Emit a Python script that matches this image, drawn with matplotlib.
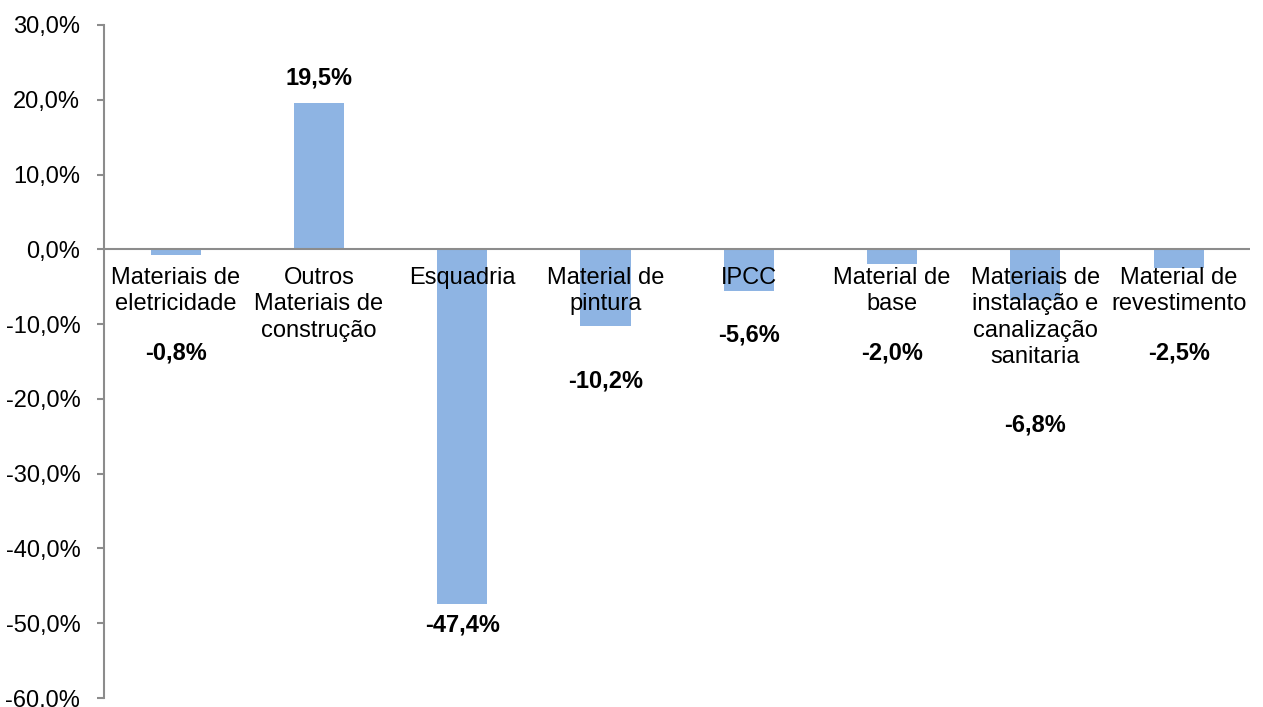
import numpy as np
import matplotlib
matplotlib.use("Agg")
import matplotlib.pyplot as plt

plt.rcParams['font.family'] = ['Liberation Sans', 'DejaVu Sans']

# data
categories = ["Materiais de\neletricidade", "Outros\nMateriais de\nconstrução", "Esquadria",
              "Material de\npintura", "IPCC", "Material de\nbase",
              "Materiais de\ninstalação e\ncanalização\nsanitaria", "Material de\nrevestimento"]
values = [-0.8, 19.5, -47.4, -10.2, -5.6, -2.0, -6.8, -2.5]
# where the value labels sit (placed by hand in the original)
label_y = [-13.8, 22.9, -50.3, -17.6, -11.5, -13.8, -23.5, -13.8]
yticks = np.arange(-60, 31, 10)

fig = plt.figure(figsize=(12.63, 7.07), dpi=100)
ax = fig.add_axes([0.0823, 0.0127, 0.9077, 0.952])

x = np.arange(len(values))
ax.bar(x, values, width=0.35, color="#8EB4E3", zorder=2)
ax.axhline(0, color="#8C8C8C", lw=1.5, zorder=3)

for i, cat in enumerate(categories):
    ax.annotate(cat, xy=(i, 0), xytext=(0, -12.5), textcoords="offset points",
                ha="center", va="top", fontsize=17, linespacing=1.27, zorder=4)
    s = f"{values[i]:.1f}%".replace(".", ",")
    ax.text(i, label_y[i], s, ha="center", va="center", fontsize=17,
            fontweight="bold", zorder=4)

ax.set_xlim(-0.5, len(values) - 0.5)
ax.set_ylim(-60, 30)
ax.set_yticks(yticks)
ax.set_yticklabels([f"{v:.1f}%".replace(".", ",") for v in yticks], fontsize=17)
ax.set_xticks([])
ax.tick_params(axis="y", direction="out", length=5, width=1.5, color="#8C8C8C", pad=12)

for sp in ["top", "right", "bottom"]:
    ax.spines[sp].set_visible(False)
ax.spines["left"].set_color("#8C8C8C")
ax.spines["left"].set_linewidth(1.5)

fig.savefig("out.png", dpi=100)
